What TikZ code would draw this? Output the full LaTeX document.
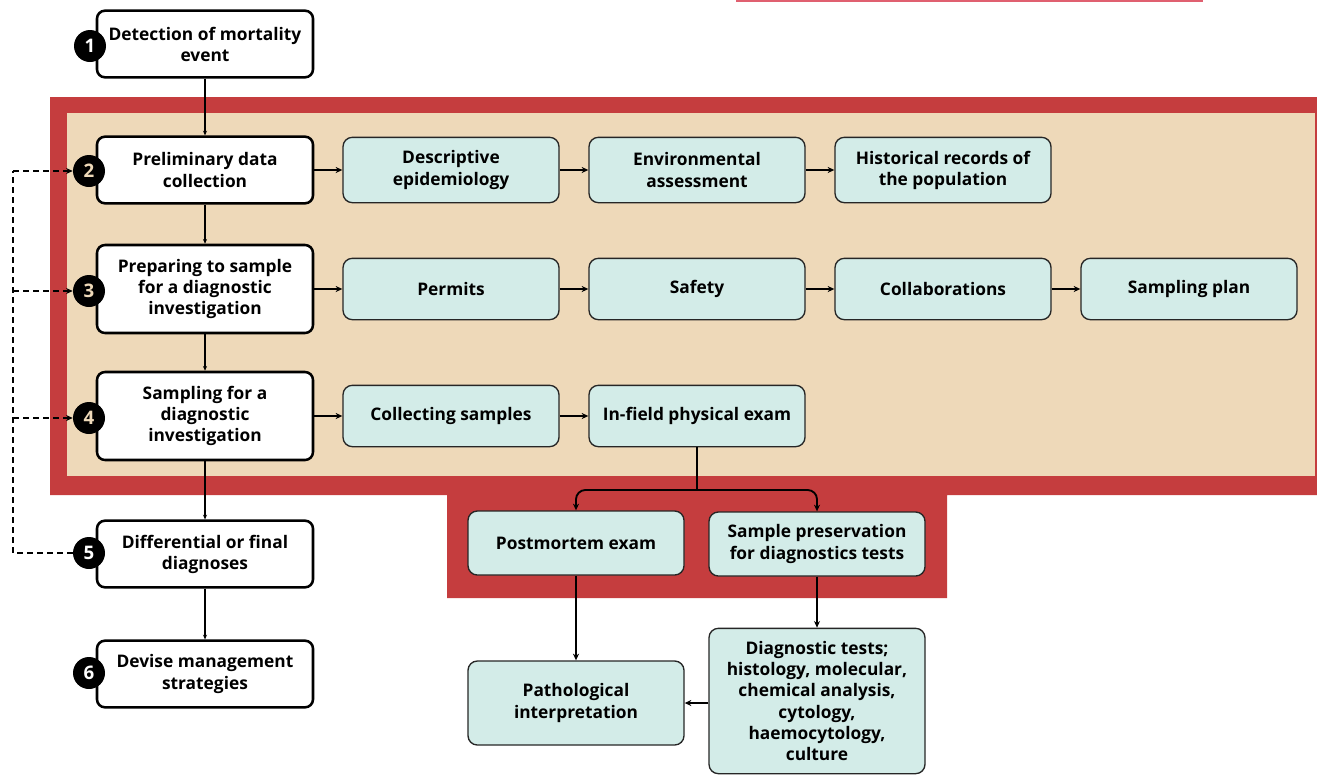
\documentclass[tikz,border=0pt]{standalone}
\usepackage{fontspec}
\setmainfont{Open Sans}
\usetikzlibrary{arrows.meta}
\definecolor{bandred}{HTML}{C53D3E}
\definecolor{sand}{HTML}{EED9B9}
\definecolor{mint}{HTML}{D3ECE8}
\definecolor{edge}{HTML}{262626}
\definecolor{rule}{HTML}{E06070}
\tikzset{
    stepbox/.style={draw=black,line width=1.9pt,rounded corners=6pt,fill=white,
        minimum width=162pt,align=center,inner sep=2pt},
    taskbox/.style={draw=edge,line width=1pt,rounded corners=7pt,fill=mint,
        minimum width=162pt,align=center,inner sep=2pt},
    numdot/.style={circle,fill=black,minimum size=24pt,inner sep=0pt,
        font=\fontsize{14}{14}\selectfont\bfseries},
    flow/.style={line width=1.4pt,-{Stealth[length=5pt,width=4.5pt]}},
    down/.style={line width=0.8pt,-{Stealth[length=3.5pt,width=3pt]}},
    back/.style={line width=1.4pt,dash pattern=on 4.5pt off 3pt,-{Stealth[length=5pt,width=4.5pt]}}
}
\begin{document}
\begin{tikzpicture}[x=0.75pt,y=-0.75pt,font=\fontsize{13}{15.8}\selectfont\bfseries]
    \useasboundingbox (0,0) rectangle (1317,775);
    % background bands
    \draw[rule,line width=1.2pt] (736,1) -- (1203,1);
    \fill[bandred] (50,97) -- (1317,97) -- (1317,495) -- (947,495) -- (947,598)
        -- (447,598) -- (447,495) -- (50,495) -- cycle;
    \fill[sand] (67,113) rectangle (1315,476);

    % main steps
    \begin{scope}[every node/.append style={stepbox}]
        \node[minimum height=50pt] (step1) at (205,44)  {Detection of mortality\\event};
        \node[minimum height=50pt] (step2) at (205,170) {Preliminary data\\collection};
        \node[minimum height=66pt] (step3) at (205,289) {Preparing to sample\\for a diagnostic\\investigation};
        \node[minimum height=66pt] (step4) at (205,416) {Sampling for a\\diagnostic\\investigation};
        \node[minimum height=50pt] (step5) at (205,554) {Differential or final\\diagnoses};
        \node[minimum height=50pt] (step6) at (205,674) {Devise management\\strategies};
    \end{scope}
    \begin{scope}[every node/.append style={numdot}]
        \node[text=white] (num1) at (90,46)  {1};
        \node[text=sand]  (num2) at (89,171) {2};
        \node[text=sand]  (num3) at (89,291) {3};
        \node[text=sand]  (num4) at (89,418) {4};
        \node[text=white] (num5) at (89,553) {5};
        \node[text=white] (num6) at (89,673) {6};
    \end{scope}

    % tasks
    \begin{scope}[every node/.append style={taskbox}]
        \node[minimum height=49pt] (desc)    at (451,170)  {Descriptive\\epidemiology};
        \node[minimum height=49pt] (envir)   at (697,170)  {Environmental\\assessment};
        \node[minimum height=49pt] (hist)    at (943,170)  {Historical records of\\the population};
        \node[minimum height=46pt] (permits) at (451,289)  {Permits};
        \node[minimum height=46pt] (safety)  at (697,289)  {Safety};
        \node[minimum height=46pt] (collab)  at (943,289)  {Collaborations};
        \node[minimum height=46pt] (splan)   at (1189,289) {Sampling plan};
        \node[minimum height=46pt] (collect) at (451,416)  {Collecting samples};
        \node[minimum height=46pt] (infield) at (697,416)  {In-field physical exam};
        \node[minimum height=48pt] (postmortem) at (576,543) {Postmortem exam};
        \node[minimum height=48pt] (preserv)    at (817,544) {Sample preservation\\for diagnostics tests};
        \node[minimum height=63pt] (patho)      at (576,703) {Pathological\\interpretation};
        \node[minimum height=109pt] (diagtests) at (817,701) {Diagnostic tests;\\histology, molecular,\\chemical analysis,\\cytology,\\haemocytology,\\culture};
    \end{scope}

    % main column
    \draw[down] (step1) -- (step2);
    \draw[down] (step2) -- (step3);
    \draw[down] (step3) -- (step4);
    \draw[down] (step4) -- (step5);
    \draw[down] (step5) -- (step6);

    % rows
    \draw[flow] (step2) -- (desc);
    \draw[flow] (desc) -- (envir);
    \draw[flow] (envir) -- (hist);
    \draw[flow] (step3) -- (permits);
    \draw[flow] (permits) -- (safety);
    \draw[flow] (safety) -- (collab);
    \draw[flow] (collab) -- (splan);
    \draw[flow] (step4) -- (collect);
    \draw[flow] (collect) -- (infield);

    % split below the field exam
    \coordinate (split) at (697,490);
    \draw[line width=1.4pt] (infield) -- (split);
    \draw[flow,rounded corners=7pt] (split) -| (postmortem);
    \draw[flow,rounded corners=7pt] (split) -| (preserv);
    \draw[flow] (postmortem) -- (patho);
    \draw[flow] (preserv) -- (diagtests);
    \draw[flow] (diagtests.west |- patho) -- (patho);

    % feedback loop
    \coordinate (loop) at (13,553);
    \draw[back,-] (num5) -- (loop) -- (loop |- num2);
    \draw[back] (loop |- num2) -- (num2);
    \draw[back] (loop |- num3) -- (num3);
    \draw[back] (loop |- num4) -- (num4);
\end{tikzpicture}
\end{document}
